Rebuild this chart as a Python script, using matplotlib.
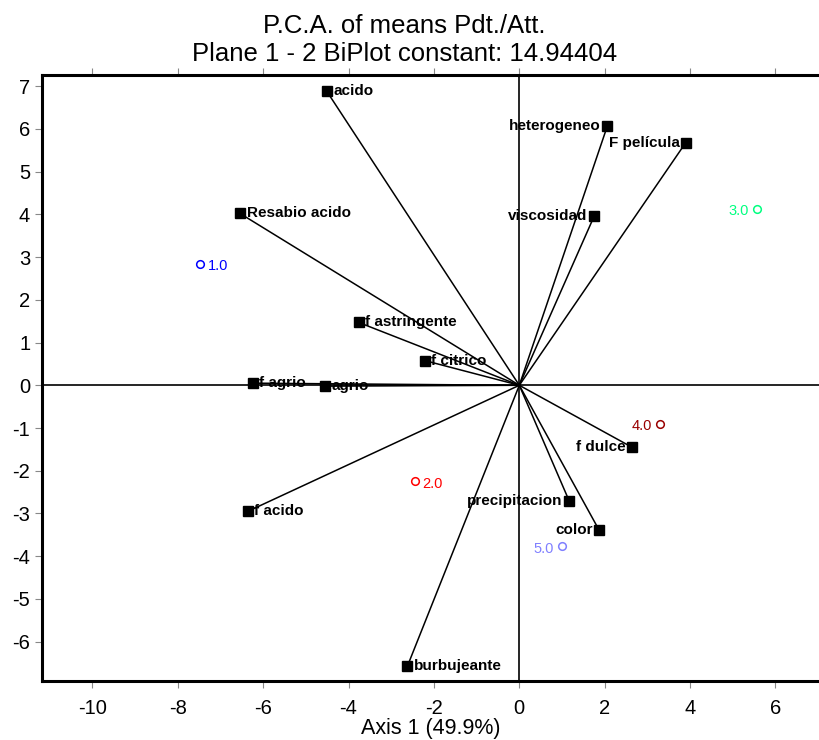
import matplotlib.pyplot as plt

plt.rcParams['font.family'] = ['Liberation Sans', 'DejaVu Sans']
plt.rcParams['axes.unicode_minus'] = False

# variables (attribute vectors)
var_names = ["acido", "heterogeneo", "F película", "viscosidad", "Resabio acido",
             "f astringente", "f citrico", "f agrio", "agrio", "f dulce",
             "precipitacion", "color", "f acido", "burbujeante"]
var_x = [-4.51, 2.06, 3.90, 1.75, -6.54, -3.76, -2.22, -6.24, -4.56, 2.64, 1.17, 1.87, -6.36, -2.62]
var_y = [6.88, 6.06, 5.68, 3.95, 4.02, 1.47, 0.58, 0.05, -0.02, -1.45, -2.71, -3.39, -2.95, -6.57]
# label side: 'r' = text right of marker, 'l' = left
var_side = ['r', 'l', 'l', 'l', 'r', 'r', 'r', 'r', 'r', 'l', 'l', 'l', 'r', 'r']

# products (means)
prod_names = ["1.0", "2.0", "3.0", "4.0", "5.0"]
prod_x = [-7.48, -2.45, 5.56, 3.29, 1.00]
prod_y = [2.83, -2.25, 4.12, -0.91, -3.77]
prod_colors = ['#0000FF', '#FF0000', '#00FF80', '#990000', '#8080FF']
prod_side = ['r', 'r', 'l', 'l', 'l']

fig = plt.figure(figsize=(8.19, 7.4), dpi=100)
ax = fig.add_axes([0.0513, 0.0797, 0.9487, 0.8189])
ax.set_xlim(-11.18, 7.02)
ax.set_ylim(-6.92, 7.26)

# reference axes through origin
ax.axhline(0, color='black', lw=1.2, zorder=1)
ax.axvline(0, color='black', lw=1.2, zorder=1)

for name, x, y, s in zip(var_names, var_x, var_y, var_side):
    ax.plot([0, x], [0, y], color='black', lw=1.1, zorder=2)
    ax.plot(x, y, marker='s', color='black', markersize=7.5, zorder=3)
    if s == 'r':
        ax.text(x + 0.15, y, name, ha='left', va='center', fontsize=11, fontweight='bold', zorder=4)
    else:
        ax.text(x - 0.15, y, name, ha='right', va='center', fontsize=11, fontweight='bold', zorder=4)

for name, x, y, c, s in zip(prod_names, prod_x, prod_y, prod_colors, prod_side):
    ax.plot(x, y, marker='o', mfc='none', mec=c, markersize=5.5, mew=1.1, zorder=3)
    if s == 'r':
        ax.text(x + 0.18, y - 0.05, name, ha='left', va='center', fontsize=10.5, color=c)
    else:
        ax.text(x - 0.18, y - 0.05, name, ha='right', va='center', fontsize=10.5, color=c)

ax.set_xticks([-10, -8, -6, -4, -2, 0, 2, 4, 6])
ax.set_yticks([-6, -5, -4, -3, -2, -1, 0, 1, 2, 3, 4, 5, 6, 7])
ax.tick_params(axis='both', direction='out', length=5, color='#888888', labelsize=14.5, top=True)
ax.tick_params(axis='x', pad=8)

ax.spines['right'].set_visible(False)
for sp in ['left', 'bottom', 'top']:
    ax.spines[sp].set_linewidth(2.2)

ax.set_xlabel("Axis 1 (49.9%)", fontsize=15.5, labelpad=0)
ax.set_title("P.C.A. of means Pdt./Att.\nPlane 1 - 2 BiPlot constant: 14.94404", fontsize=18.5, pad=10, x=0.466)

fig.savefig('out.png', dpi=100)
